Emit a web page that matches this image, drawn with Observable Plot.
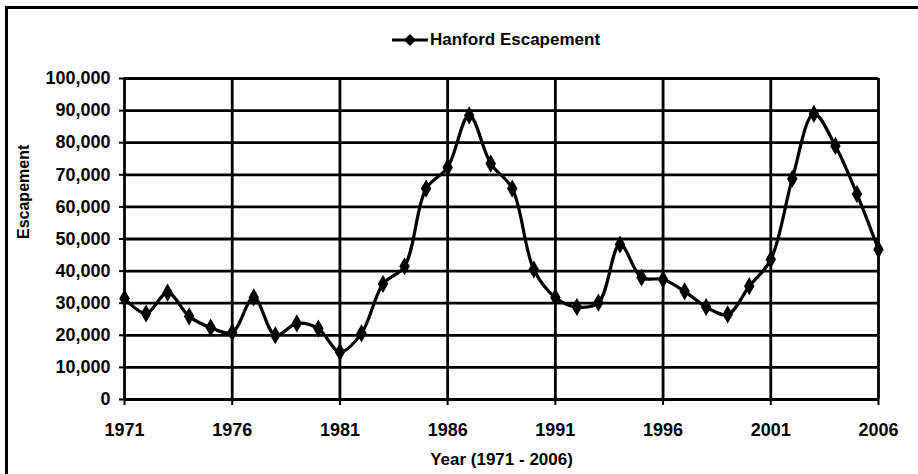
<!DOCTYPE html>
<html>
<head>
<meta charset="utf-8">
<script src="https://cdn.jsdelivr.net/npm/d3@7"></script>
<script src="https://cdn.jsdelivr.net/npm/@observablehq/plot@0.6"></script>
<style>
  html, body { margin: 0; padding: 0; background: #fff; }
  #wrap { position: relative; width: 918px; height: 474px; overflow: hidden; font-family: "Liberation Sans", Arial, sans-serif; }
  #frame { position: absolute; left: 5px; top: 6px; width: 920px; height: 480px; border-top: 3px solid #000; border-left: 3px solid #000; box-sizing: border-box; pointer-events: none; }
  #legend { position: absolute; left: 392px; top: 30px; display: flex; align-items: center; font-weight: bold; font-size: 17px; color: #000; white-space: nowrap; }
  #legend svg { margin-right: 2px; }
  #chart { position: absolute; left: 0; top: 0; }
</style>
</head>
<body>
<div id="wrap">
  <div id="chart"></div>
  <div id="frame"></div>
  <div id="legend"><svg width="36" height="14"><line x1="0" y1="7" x2="36" y2="7" stroke="#000" stroke-width="3"/><path d="M18,1 L24,7 L18,13 L12,7 Z" fill="#000"/></svg><span>Hanford Escapement</span></div>
</div>
<script>
const years = d3.range(1971, 2007);
const escapement = [
  31500, 26800, 33300, 25900, 22400, 20900, 31800, 20000, 23700, 22100,
  14800, 20600, 36000, 41500, 65700, 72300, 88500, 73500, 65700, 40500,
  31800, 28800, 30200, 48300, 38000, 37400, 33700, 28800, 26500, 35300,
  43600, 68800, 89000, 79000, 64000, 46700
];
const xTicks = [1971, 1976, 1981, 1986, 1991, 1996, 2001, 2006];
const yTicks = d3.range(0, 100001, 10000);
const seriesName = "Hanford Escapement";
const xTitle = "Year (1971 - 2006)";
const yTitle = "Escapement";

const data = years.map((y, i) => ({year: y, value: escapement[i]}));

const chart = Plot.plot({
  width: 918,
  height: 474,
  marginLeft: 124,
  marginRight: 40,
  marginTop: 78,
  marginBottom: 75,
  style: {fontFamily: "'Liberation Sans', Arial, sans-serif", fontWeight: "bold", color: "#000", background: "transparent"},
  x: {domain: [1971, 2006], label: null},
  y: {domain: [0, 100000], label: null},
  marks: [
    Plot.ruleY(yTicks, {stroke: "#000", strokeWidth: 2.8}),
    Plot.ruleX(xTicks, {stroke: "#000", strokeWidth: 2.8}),
    Plot.axisY({ticks: yTicks, tickFormat: d3.format(","), tickSize: 5, tickPadding: 9, fontSize: 18, strokeWidth: 2, label: null}),
    Plot.axisX({ticks: xTicks, tickFormat: d => String(d), tickSize: 6, tickPadding: 18, fontSize: 18, strokeWidth: 2, label: null}),
    Plot.line(data, {x: "year", y: "value", stroke: "#000", strokeWidth: 3.2, curve: "catmull-rom"}),
    Plot.dot(data, {x: "year", y: "value", symbol: "diamond", r: 5.5, fill: "#000", stroke: "none"}),
    Plot.text([xTitle], {frameAnchor: "bottom", dy: 65, fontSize: 17, fontWeight: "bold", fill: "#000"}),
    Plot.text([yTitle], {frameAnchor: "left", dx: -101, rotate: -90, fontSize: 16, fontWeight: "bold", fill: "#000"})
  ]
});
document.getElementById("chart").appendChild(chart);
</script>
</body>
</html>
